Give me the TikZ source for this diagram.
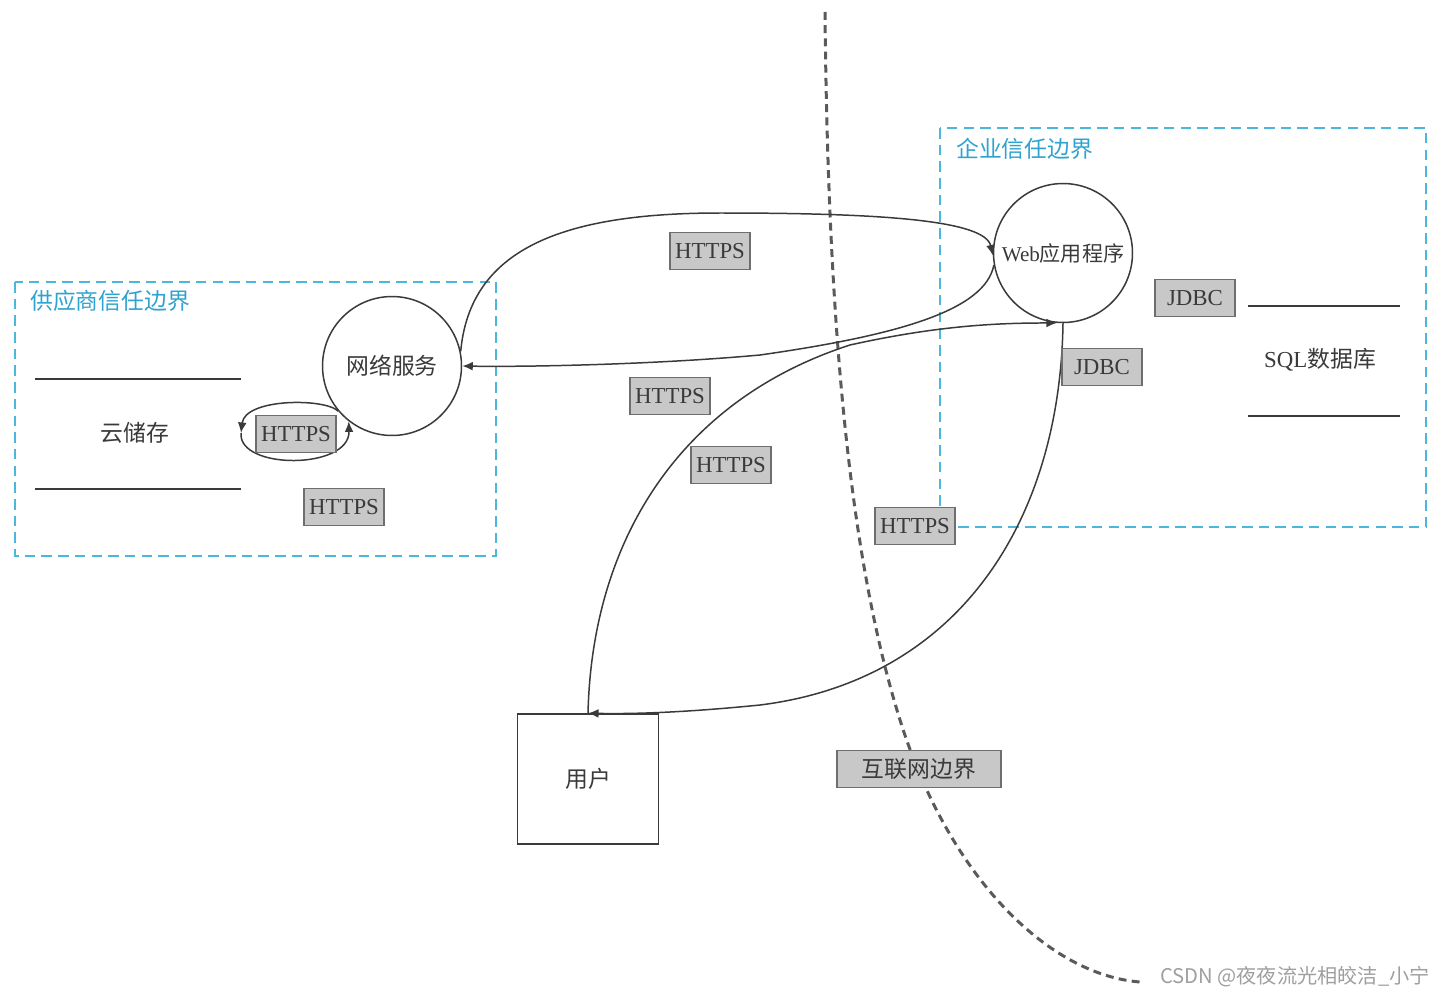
\documentclass[tikz,border=0pt]{standalone}
\usepackage{fontspec}
\setmainfont{Liberation Serif}
\newfontfamily\cjk{Noto Sans CJK SC}
\usetikzlibrary{arrows.meta}
\definecolor{trustblue}{HTML}{4DB6DC}
\definecolor{trusttext}{HTML}{2FA3CF}
\definecolor{tagfill}{HTML}{C8C8C8}
\definecolor{tagedge}{HTML}{6E6E6E}
\definecolor{inkgray}{HTML}{3A3A3A}
\definecolor{bordergray}{HTML}{5A5A5A}

\begin{document}
\begin{tikzpicture}[x=0.02cm,y=-0.02cm,
  proc/.style={circle,draw=inkgray,line width=0.85pt,minimum size=2.78cm,inner sep=0pt,text=inkgray},
  tag/.style={draw=tagedge,fill=tagfill,line width=0.9pt,minimum width=1.6cm,minimum height=0.74cm,inner sep=1pt,text=inkgray,font=\fontsize{13}{15}\selectfont},
  flow/.style={draw=inkgray,line width=0.85pt,-{Latex[length=6pt,width=5pt]}},
  trust/.style={draw=trustblue,line width=1.5pt,dash pattern=on 6pt off 3.5pt},
  store/.style={draw=inkgray,line width=0.85pt},
  zh/.style={font=\cjk\fontsize{13}{15}\selectfont,text=inkgray},
  lat/.style={font=\fontsize{13}{15}\selectfont,text=inkgray}]
\useasboundingbox[fill=white] (0,0) rectangle (1449,997);

\draw[trust] (15,282) rectangle (496,556);
\draw[trust] (940,128) rectangle (1426,527);
\node[anchor=west,zh,text=trusttext] (vendor) at (24,301) {供应商信任边界};
\node[anchor=west,zh,text=trusttext] (corp) at (950,149) {企业信任边界};

\draw[draw=bordergray,line width=1.7pt,dash pattern=on 4.5pt off 3pt]
  (825,12) .. controls (828,330) and (850,560) .. (900,720)
  .. controls (950,880) and (1050,975) .. (1140,982);

\node[proc,zh] (ws) at (392,366) {网络服务};
\node[proc,font=\fontsize{12}{14}\selectfont] (web) at (1063,253) {Web{\cjk 应用程序}};
\node[draw=inkgray,line width=0.9pt,minimum width=2.82cm,minimum height=2.6cm,zh] (user) at (588,779) {用户};

\draw[store] (35,379) -- (241,379);
\draw[store] (35,489) -- (241,489);
\node[zh] (cs) at (135,433) {云储存};
\coordinate (cs-e) at (241,433);

\draw[store] (1248,306) -- (1400,306);
\draw[store] (1248,416) -- (1400,416);
\node[lat] (db) at (1320,360) {SQL{\cjk 数据库}};

\draw[flow] (ws.12) .. controls (470,250) and (560,213) .. (720,213)
  .. controls (880,213) and (985,220) .. (web.182);
\draw[flow] (web.190) .. controls (985,310) and (900,335) .. (760,355)
  .. controls (650,365) and (520,367) .. (ws.east);
\draw[flow] (user.north) .. controls (592,540) and (680,400) .. (850,345)
  .. controls (940,325) and (1000,323) .. (web.265);
\draw[flow] (web.270) .. controls (1060,520) and (960,680) .. (760,705)
  .. controls (680,713) and (630,714) .. (user.north);
\draw[flow] (ws.220) .. controls (325,398) and (245,398) .. (cs-e);
\draw[flow] (cs-e) .. controls (238,470) and (350,470) .. (ws.232);

\node[tag] (h1) at (710,251) {HTTPS};
\node[tag] (h2) at (670,396) {HTTPS};
\node[tag] (h3) at (731,465) {HTTPS};
\node[tag] (h4) at (344,507) {HTTPS};
\node[tag] (h5) at (296,434) {HTTPS};
\node[tag] (h6) at (915,526) {HTTPS};
\node[tag] (j1) at (1195,298) {JDBC};
\node[tag] (j2) at (1102,367) {JDBC};
\node[tag,font=\cjk\fontsize{13}{15}\selectfont,minimum width=3.28cm] (inet) at (919,769) {互联网边界};

\node[anchor=east,font=\cjk\fontsize{11.5}{13}\selectfont,text=gray!75] (mark) at (1436,977) {CSDN @夜夜流光相皎洁\_小宁};
\end{tikzpicture}
\end{document}
